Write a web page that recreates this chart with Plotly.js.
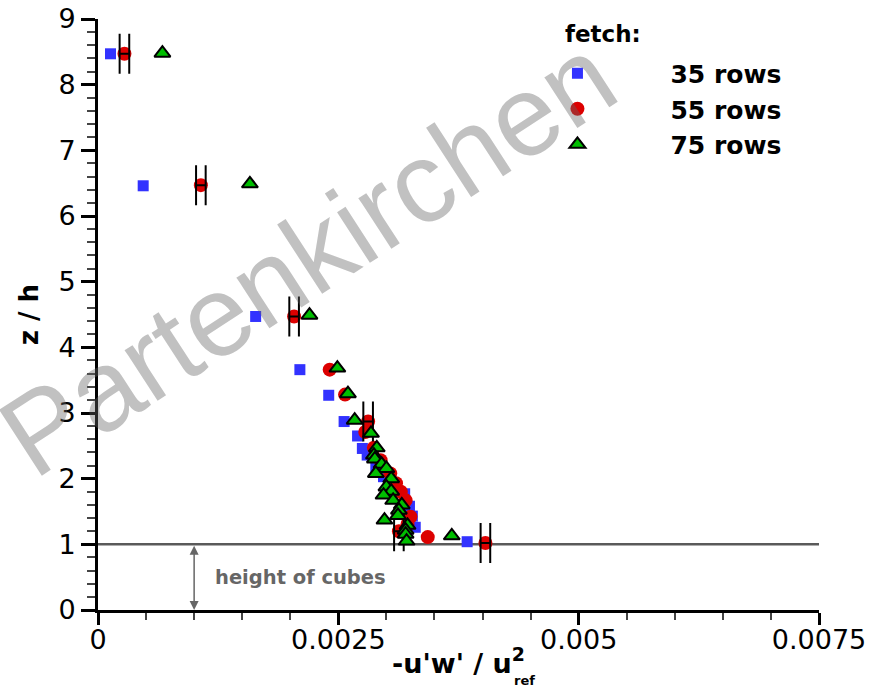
<!DOCTYPE html>
<html>
<head>
<meta charset="utf-8">
<script src="https://cdn.plot.ly/plotly-3.0.1.min.js"></script>
<style>html,body{margin:0;padding:0;background:#fff;}#chart{width:880px;height:689px;}</style>
</head>
<body>
<div id="chart"></div>
<script>
// ---- data ----
const names = ["35 rows", "55 rows", "75 rows"];
const legendTitle = "fetch:";

const x35 = [0.00013, 0.00047, 0.00164, 0.00210, 0.00240, 0.00256, 0.00270, 0.00275, 0.00280, 0.00289, 0.00297, 0.00308, 0.00319, 0.00324, 0.00327, 0.00330, 0.00384];
const z35 = [8.47, 6.46, 4.47, 3.66, 3.27, 2.87, 2.65, 2.46, 2.36, 2.18, 2.03, 1.90, 1.77, 1.58, 1.43, 1.26, 1.04];

const x55 = [0.000275, 0.00107, 0.00204, 0.00241, 0.00257, 0.00281, 0.00278, 0.00287, 0.00294, 0.00304, 0.00310, 0.00315, 0.00320, 0.00325, 0.00322, 0.00313, 0.00343, 0.00403];
const z55 = [8.47, 6.47, 4.47, 3.66, 3.28, 2.87, 2.71, 2.47, 2.28, 2.08, 1.93, 1.80, 1.67, 1.42, 1.31, 1.20, 1.11, 1.02];
const err55Idx = [0, 1, 2, 5, 15, 17];
const err55 = 0.00005;

const x75 = [0.00067, 0.00158, 0.00220, 0.00249, 0.00260, 0.00267, 0.00284, 0.00290, 0.00287, 0.00288, 0.00295, 0.00300, 0.00289, 0.00305, 0.00300, 0.00305, 0.00297, 0.00307, 0.00316, 0.00313, 0.00312, 0.00298, 0.00322, 0.00320, 0.00320, 0.00321, 0.00368];
const z75 = [8.48, 6.49, 4.49, 3.685, 3.295, 2.89, 2.69, 2.47, 2.36, 2.30, 2.22, 2.155, 2.08, 2.00, 1.874, 1.81, 1.75, 1.67, 1.60, 1.52, 1.44, 1.37, 1.29, 1.215, 1.154, 1.05, 1.13];

const xTicks = [0, 0.0025, 0.005, 0.0075];
const xTickText = ["0", "0.0025", "0.005", "0.0075"];
const cubeHeight = 1;
const arrowX = 0.001;

// ---- traces ----
const FONT = "DejaVu Sans, Verdana, sans-serif";
const WMFONT = "Liberation Sans, Arial, Helvetica, sans-serif";
const traces = [
  {x: x35, y: z35, name: names[0], type: "scatter", mode: "markers",
   marker: {symbol: "square", size: 11, color: "rgb(50,50,255)"}},
  {x: x55, y: z55, name: names[1], type: "scatter", mode: "markers",
   marker: {symbol: "circle", size: 14, color: "rgb(220,0,0)"}},
  {x: err55Idx.map(i => x55[i]), y: err55Idx.map(i => z55[i]), type: "scatter", mode: "markers",
   showlegend: false, hoverinfo: "skip",
   marker: {size: 1, opacity: 0},
   error_x: {type: "constant", value: err55, width: 20, thickness: 2, color: "#000"}},
  {x: x75, y: z75, name: names[2], type: "scatter", mode: "markers",
   marker: {symbol: "triangle-up", size: 14, color: "rgb(0,190,0)", line: {color: "#000", width: 2}}}
];

const layout = {
  width: 880, height: 689,
  margin: {l: 97.5, r: 61, t: 18.5, b: 79},
  paper_bgcolor: "#fff", plot_bgcolor: "#fff",
  font: {family: FONT, color: "#000", size: 26},
  showlegend: true,
  legend: {
    x: 0.536, y: 0.9466, xanchor: "left", yanchor: "top",
    bgcolor: "rgba(0,0,0,0)",
    font: {size: 25, weight: "bold", family: FONT},
    itemwidth: 176, tracegroupgap: 0
  },
  xaxis: {
    range: [0, 0.0075], tickvals: xTicks, ticktext: xTickText,
    showgrid: false, zeroline: false,
    showline: true, linecolor: "#000", linewidth: 3,
    ticks: "outside", ticklen: 12, tickwidth: 3, tickcolor: "#000",
    tickfont: {size: 27}, ticklabelstandoff: -8,
    minor: {dtick: 0.0005, ticks: "outside", ticklen: 7, tickwidth: 2, tickcolor: "#444", showgrid: false},
    title: {text: "-u'w' / u<sup>2</sup>", font: {size: 27, weight: "bold"}, standoff: 0}
  },
  yaxis: {
    range: [0, 9], dtick: 1, tick0: 0,
    showgrid: false, zeroline: false,
    showline: true, linecolor: "#000", linewidth: 3,
    ticks: "outside", ticklen: 14, tickwidth: 3, tickcolor: "#000",
    tickfont: {size: 27},
    minor: {dtick: 0.2, ticks: "outside", ticklen: 8, tickwidth: 2, tickcolor: "#444", showgrid: false},
    title: {text: "z / h", font: {size: 26, weight: "bold"}, standoff: 13}
  },
  shapes: [
    {type: "line", xref: "x", yref: "y", x0: 0, x1: 0.0075, y0: cubeHeight, y1: cubeHeight,
     line: {color: "#5a5a5a", width: 2.5}, layer: "below"}
  ],
  annotations: [
    {xref: "paper", yref: "paper", x: 0.645, y: 1.0, xanchor: "left", yanchor: "top", showarrow: false,
     text: legendTitle, font: {size: 23, weight: "bold"}},
    {xref: "x", yref: "y", x: arrowX, y: 0, ax: arrowX, ay: cubeHeight, axref: "x", ayref: "y",
     showarrow: true, arrowside: "end+start", arrowhead: 2, startarrowhead: 2, arrowsize: 1.2, arrowwidth: 1.5,
     arrowcolor: "#666", text: ""},
    {xref: "x", yref: "y", x: arrowX, y: 0.5, xanchor: "left", xshift: 19, showarrow: false,
     text: "height of cubes", font: {size: 19.5, weight: "bold", color: "#666"}},
    {xref: "paper", yref: "paper", x: 0.574, y: -0.119, xanchor: "left", yanchor: "middle", showarrow: false,
     text: "ref", font: {size: 13, weight: "bold"}},
    {xref: "paper", yref: "paper", x: 0.29, y: 0.598, xanchor: "center", yanchor: "middle", showarrow: false,
     text: "Partenkirchen", textangle: -33,
     font: {size: 114, family: WMFONT, color: "rgba(100,100,100,0.4)"}}
  ]
};

Plotly.newPlot("chart", traces, layout, {displayModeBar: false, staticPlot: true});
</script>
</body>
</html>
